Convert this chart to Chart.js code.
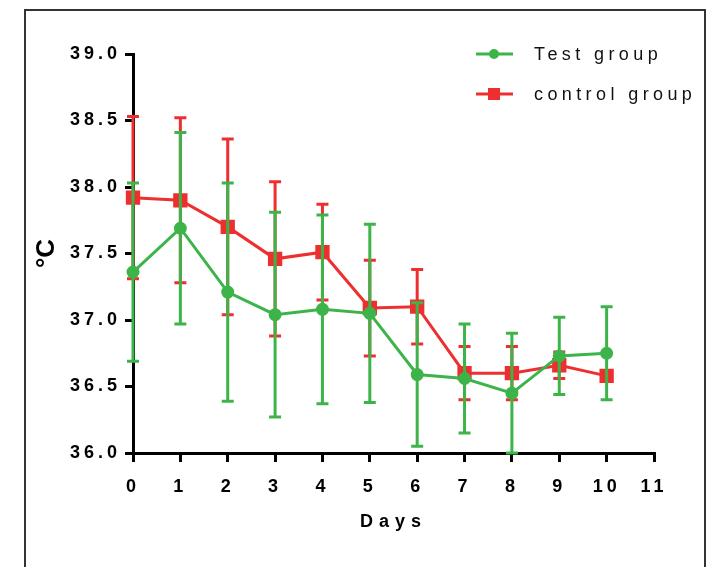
<!DOCTYPE html>
<html>
<head>
<meta charset="utf-8">
<script src="https://cdn.jsdelivr.net/npm/chart.js@4.4.0/dist/chart.umd.min.js"></script>
<style>
  html, body { margin: 0; padding: 0; background: #fff; }
  #wrap { position: relative; width: 716px; height: 567px; overflow: hidden; }
  #frame { position: absolute; left: 24px; top: 9px; width: 682px; height: 600px; border: 2px solid #333; box-sizing: border-box; }
  #chart { position: absolute; left: 0; top: 0; }
</style>
</head>
<body>
<div id="wrap">
  <div id="frame"></div>
  <canvas id="chart" width="716" height="567"></canvas>
</div>
<script>
// Values (mean +/- SD per day)
const days = [0, 1, 2, 3, 4, 5, 6, 7, 8, 9, 10];
const testMean = [37.36, 37.69, 37.21, 37.04, 37.08, 37.05, 36.59, 36.56, 36.45, 36.73, 36.75];
const testSd = [0.67, 0.72, 0.82, 0.77, 0.71, 0.67, 0.54, 0.41, 0.45, 0.29, 0.35];
const ctrlMean = [37.92, 37.90, 37.70, 37.46, 37.51, 37.09, 37.10, 36.60, 36.60, 36.66, 36.58];
const ctrlSd = [0.61, 0.62, 0.66, 0.58, 0.36, 0.36, 0.28, 0.20, 0.20, 0.10, 0.03];
const seriesNames = ['Test group', 'control group'];
const xTicks = [0, 1, 2, 3, 4, 5, 6, 7, 8, 9, 10, 11];
const yTicks = ['36.0', '36.5', '37.0', '37.5', '38.0', '38.5', '39.0'];

const green = '#3db449';
const red = '#ee2f2f';

// error bars, drawn right before each dataset's line
const errorBars = {
  id: 'errorBars',
  beforeDatasetDraw(chart, args) {
    const ds = chart.data.datasets[args.index];
    const x = chart.scales.x, y = chart.scales.y;
    const area = chart.chartArea;
    const ctx = chart.ctx;
    ctx.save();
    ctx.strokeStyle = ds.borderColor;
    ctx.lineWidth = 3;
    ds.data.forEach((p, i) => {
      const px = x.getPixelForValue(p.x);
      const top = y.getPixelForValue(p.y + ds.sd[i]);
      const lowRaw = y.getPixelForValue(p.y - ds.sd[i]);
      const bot = Math.min(lowRaw, area.bottom);
      ctx.beginPath();
      ctx.moveTo(px, top); ctx.lineTo(px, bot);
      ctx.moveTo(px - 6, top); ctx.lineTo(px + 6, top);
      if (lowRaw <= area.bottom) {
        ctx.moveTo(px - 6, bot); ctx.lineTo(px + 6, bot);
      }
      ctx.stroke();
    });
    ctx.restore();
  }
};

// legend: line with marker, then name
const lineLegend = {
  id: 'lineLegend',
  afterDraw(chart) {
    const ctx = chart.ctx;
    ctx.save();
    ctx.letterSpacing = '4.4px';
    chart.data.datasets.forEach((ds, i) => {
      const cy = 54 + i * 40;
      ctx.strokeStyle = ds.borderColor;
      ctx.fillStyle = ds.borderColor;
      ctx.lineWidth = 3;
      ctx.beginPath();
      ctx.moveTo(476, cy); ctx.lineTo(513, cy);
      ctx.stroke();
      ctx.beginPath();
      if (ds.pointStyle === 'rect') ctx.rect(488, cy - 6, 12, 12);
      else ctx.arc(494, cy, 5, 0, Math.PI * 2);
      ctx.fill();
      ctx.fillStyle = '#111';
      ctx.font = '18px "Liberation Sans", Arial, sans-serif';
      ctx.textBaseline = 'middle';
      ctx.textAlign = 'left';
      ctx.fillText(ds.label, 534, cy + 1);
    });
    ctx.restore();
  }
};

// wide letter spacing like the original; none inside the °C title
const spacing = {
  id: 'spacing',
  beforeDraw(chart) { chart.ctx.letterSpacing = '4px'; },
  afterLayout(chart) {
    const ys = chart.scales.y;
    if (ys._patched) return;
    const orig = ys.drawTitle;
    ys.drawTitle = function () {
      const c = this.ctx;
      const prev = c.letterSpacing;
      c.letterSpacing = '0px';
      orig.call(this);
      c.letterSpacing = prev;
    };
    const xs = chart.scales.x;
    const origX = xs.drawTitle;
    xs.drawTitle = function () {
      const c = this.ctx;
      const prev = c.letterSpacing;
      c.letterSpacing = '6px';
      origX.call(this);
      c.letterSpacing = prev;
    };
    ys._patched = true;
  }
};

const ctx = document.getElementById('chart').getContext('2d');
const chart = new Chart(ctx, {
  type: 'line',
  data: {
    datasets: [{
      label: seriesNames[0],
      data: days.map((d, i) => ({ x: d, y: testMean[i] })),
      sd: testSd,
      borderColor: green,
      backgroundColor: green,
      borderWidth: 3,
      pointStyle: 'circle',
      pointRadius: 5,
      tension: 0
    }, {
      label: seriesNames[1],
      data: days.map((d, i) => ({ x: d, y: ctrlMean[i] })),
      sd: ctrlSd,
      borderColor: red,
      backgroundColor: red,
      borderWidth: 3,
      pointStyle: 'rect',
      pointRadius: 8,
      tension: 0
    }]
  },
  options: {
    responsive: false,
    animation: false,
    clip: false,
    layout: { padding: { left: 0, top: 54, right: 62, bottom: 34 } },
    plugins: { legend: { display: false }, tooltip: { enabled: false } },
    scales: {
      x: {
        type: 'linear',
        min: 0,
        max: 11,
        afterBuildTicks: s => { s.ticks = xTicks.map(v => ({ value: v })); },
        afterFit: s => { s.height = 80; },
        grid: { drawOnChartArea: false, drawTicks: true, tickLength: 9, color: '#000', lineWidth: 3 },
        border: { display: true, color: '#000', width: 3 },
        ticks: { color: '#000', padding: 14, maxRotation: 0, font: { family: '"Liberation Sans", Arial', size: 18, weight: 'bold' } },
        title: { display: true, text: 'Days', color: '#000', padding: { top: 0, bottom: 0 }, font: { family: '"Liberation Sans", Arial', size: 18, weight: 'bold' } }
      },
      y: {
        type: 'linear',
        min: 36,
        max: 39,
        afterBuildTicks: s => { s.ticks = yTicks.map(v => ({ value: parseFloat(v) })); },
        afterFit: s => { s.width = 133; },
        grid: { drawOnChartArea: false, drawTicks: true, tickLength: 8, color: '#000', lineWidth: 3 },
        border: { display: true, color: '#000', width: 3 },
        ticks: {
          color: '#000', padding: 4,
          callback: (v, i) => yTicks[i],
          font: { family: '"Liberation Sans", Arial', size: 18, weight: 'bold' }
        },
        title: { display: true, text: '°C', color: '#000', padding: { top: 31, bottom: 0 }, font: { family: '"Liberation Sans", Arial', size: 26, weight: 'bold' } }
      }
    }
  },
  plugins: [spacing, errorBars, lineLegend]
});
</script>
</body>
</html>
